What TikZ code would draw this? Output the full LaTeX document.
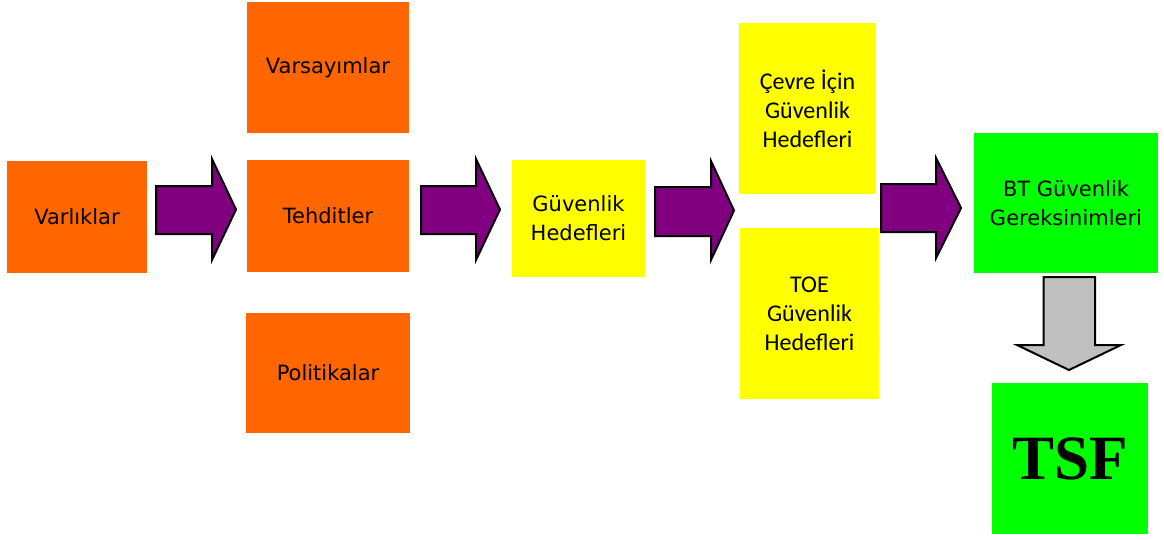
\documentclass[tikz,border=0pt]{standalone}
\usepackage{fontspec}
\setmainfont{DejaVu Sans}
\newfontfamily\calfont{Carlito}
\newfontfamily\timesfont{Liberation Serif}
\definecolor{borange}{RGB}{255,102,0}
\definecolor{byellow}{RGB}{255,255,0}
\definecolor{bgreen}{RGB}{0,255,0}
\definecolor{bpurple}{RGB}{128,0,128}
\definecolor{bgray}{RGB}{192,192,192}
\tikzset{
  box/.style={inner sep=0pt, align=center, font=\fontsize{21}{29}\selectfont},
  obox/.style={box, fill=borange},
  ybox/.style={box, fill=byellow},
  gbox/.style={box, fill=bgreen},
  cbox/.style={ybox, font=\calfont\fontsize{24}{29}\selectfont},
  rarrow/.style={fill=bpurple, draw=black, line width=2pt, line join=miter},
  darrow/.style={fill=bgray, draw=black, line width=2pt, line join=miter},
}
\begin{document}
\begin{tikzpicture}[x=1pt,y=-1pt]
\useasboundingbox (0,0) rectangle (1164,539);
% boxes
\node[obox, minimum width=140, minimum height=112] (varl) at (77,217) {Varlıklar};
\node[obox, minimum width=162, minimum height=131] (vars) at (328,67.5) {Varsayımlar};
\node[obox, minimum width=162, minimum height=112] (tehd) at (328,216) {Tehditler};
\node[obox, minimum width=164, minimum height=120] (poli) at (328,373) {Politikalar};
\node[ybox, minimum width=133, minimum height=117] (ghed) at (578.5,218.5) {Güvenlik\\Hedefleri};
\node[cbox, minimum width=137, minimum height=171] (cevre) at (807.5,108.5) {Çevre İçin\\Güvenlik\\Hedefleri};
\node[cbox, minimum width=139, minimum height=171] (toe) at (809.5,313.5) {TOE\\Güvenlik\\Hedefleri};
\node[gbox, minimum width=184, minimum height=140] (bt) at (1066,203) {BT Güvenlik\\Gereksinimleri};
\node[gbox, minimum width=156, minimum height=151, font=\timesfont\bfseries\fontsize{63}{70}\selectfont] (tsf) at (1070,458.5) {TSF};
% block arrows
\draw[rarrow] (156,186) -- (212,186) -- (212,159) -- (236,209.5) -- (212,260) -- (212,234) -- (156,234) -- cycle;
\draw[rarrow] (421,186) -- (476,186) -- (476,159) -- (500,209.5) -- (476,260) -- (476,234) -- (421,234) -- cycle;
\draw[rarrow] (655,187) -- (711,187) -- (711,161) -- (734,210.5) -- (711,260) -- (711,236) -- (655,236) -- cycle;
\draw[rarrow] (881,184) -- (936,184) -- (936,158) -- (961,208) -- (936,258) -- (936,232) -- (881,232) -- cycle;
\draw[darrow] (1043.5,277) -- (1095,277) -- (1095,345) -- (1121,345) -- (1069,370) -- (1017,345) -- (1043.5,345) -- cycle;
\end{tikzpicture}
\end{document}
